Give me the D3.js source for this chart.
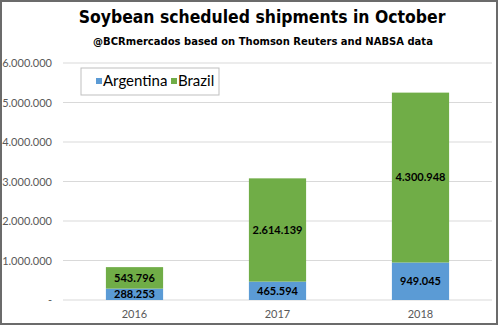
<!DOCTYPE html>
<html>
<head>
<meta charset="utf-8">
<script src="https://cdn.jsdelivr.net/npm/d3@7"></script>
<style>
  html, body { margin: 0; padding: 0; background: #fff; }
  svg { display: block; }
</style>
</head>
<body>
<svg id="chart" width="500" height="325"></svg>
<script>
const years = ["2016", "2017", "2018"];
const argentina = [288253, 465594, 949045];
const brazil = [543796, 2614139, 4300948];
const seriesNames = ["Argentina", "Brazil"];
const seriesColors = ["#5B9BD5", "#70AD47"];
const tickValues = [0, 1000000, 2000000, 3000000, 4000000, 5000000, 6000000];
const tickLabels = ["-", "1.000.000", "2.000.000", "3.000.000", "4.000.000", "5.000.000", "6.000.000"];
const title = "Soybean scheduled shipments in October";
const subtitle = "@BCRmercados based on Thomson Reuters and NABSA data";

const loc = d3.formatLocale({decimal: ",", thousands: ".", grouping: [3], currency: ["", ""]});
const fmt = loc.format(",d");

const svg = d3.select("#chart");

// outer border
svg.append("rect").attr("x", 1).attr("y", 1).attr("width", 496).attr("height", 323)
  .attr("fill", "#fff").attr("stroke", "#6b6b6b").attr("stroke-width", 2);

const x = d3.scaleBand().domain(years).range([63, 492]).paddingInner(0.6).paddingOuter(0.3);
const y = d3.scaleLinear().domain([0, 6000000]).range([300, 63]);

// gridlines
svg.append("g").selectAll("line").data(tickValues).join("line")
  .attr("x1", 63).attr("x2", 492)
  .attr("y1", d => y(d)).attr("y2", d => y(d))
  .attr("stroke", "#d9d9d9").attr("stroke-width", 1.2);

// y axis labels
const yAxis = d3.axisLeft(y).tickValues(tickValues).tickFormat((d, i) => tickLabels[i]).tickSize(0).tickPadding(0);
const gy = svg.append("g").attr("transform", "translate(52,0)").call(yAxis);
gy.select(".domain").remove();
gy.selectAll("text").attr("font-family", "Lato, 'Open Sans', sans-serif").attr("font-size", 11)
  .attr("fill", "#595959").attr("dy", "0.35em");

// x axis labels
const xAxis = d3.axisBottom(x).tickSize(0).tickPadding(0);
const gx = svg.append("g").attr("transform", "translate(0,310)").call(xAxis);
gx.select(".domain").remove();
gx.selectAll("text").attr("font-family", "Lato, 'Open Sans', sans-serif").attr("font-size", 11)
  .attr("fill", "#595959").attr("dy", "0.35em").attr("y", 4);

// stacked bars
const table = years.map((yr, i) => ({year: yr, Argentina: argentina[i], Brazil: brazil[i]}));
const stack = d3.stack().keys(seriesNames)(table);

const layers = svg.append("g").selectAll("g").data(stack).join("g")
  .attr("fill", (d, i) => seriesColors[i]);
layers.selectAll("rect").data(d => d).join("rect")
  .attr("x", d => x(d.data.year))
  .attr("width", x.bandwidth())
  .attr("y", d => y(d[1]))
  .attr("height", d => y(d[0]) - y(d[1]));

// data labels
layers.selectAll("text").data(d => d).join("text")
  .attr("x", d => x(d.data.year) + x.bandwidth() / 2)
  .attr("y", d => (y(d[0]) + y(d[1])) / 2)
  .attr("dy", "0.35em")
  .attr("text-anchor", "middle")
  .attr("font-family", "Lato, 'Open Sans', sans-serif")
  .attr("font-weight", "bold")
  .attr("font-size", 11)
  .attr("fill", "#000")
  .text(d => fmt(d[1] - d[0]));

// title & subtitle, font sized so natural width fits the reference width
function fitText(sel, target, startSize) {
  sel.attr("font-size", startSize);
  const w = sel.node().getComputedTextLength();
  if (w > 0) sel.attr("font-size", startSize * target / w);
}
const tTitle = svg.append("text").attr("x", 262).attr("y", 23).attr("text-anchor", "middle")
  .attr("font-family", "'DejaVu Sans Condensed', 'Liberation Sans Narrow', sans-serif")
  .attr("font-weight", "bold").attr("fill", "#000")
  .text(title);
fitText(tTitle, 367, 22);
const tSub = svg.append("text").attr("x", 263).attr("y", 45).attr("text-anchor", "middle")
  .attr("font-family", "'DejaVu Sans Condensed', 'Liberation Sans Narrow', sans-serif")
  .attr("font-weight", "bold").attr("fill", "#000")
  .text(subtitle);
fitText(tSub, 340, 13.5);

// legend
const lg = svg.append("g");
lg.append("rect").attr("x", 81).attr("y", 68).attr("width", 138).attr("height", 27)
  .attr("fill", "#fff").attr("stroke", "#bfbfbf").attr("stroke-width", 1);
const legendX = [96, 171];
seriesNames.forEach((name, i) => {
  lg.append("rect").attr("x", legendX[i]).attr("y", 78).attr("width", 6).attr("height", 6)
    .attr("fill", seriesColors[i]);
  lg.append("text").attr("x", legendX[i] + 7).attr("y", 81).attr("dy", "0.35em")
    .attr("font-family", "Lato, 'Open Sans', sans-serif").attr("font-size", 15).attr("fill", "#000")
    .text(name);
});
</script>
</body>
</html>
